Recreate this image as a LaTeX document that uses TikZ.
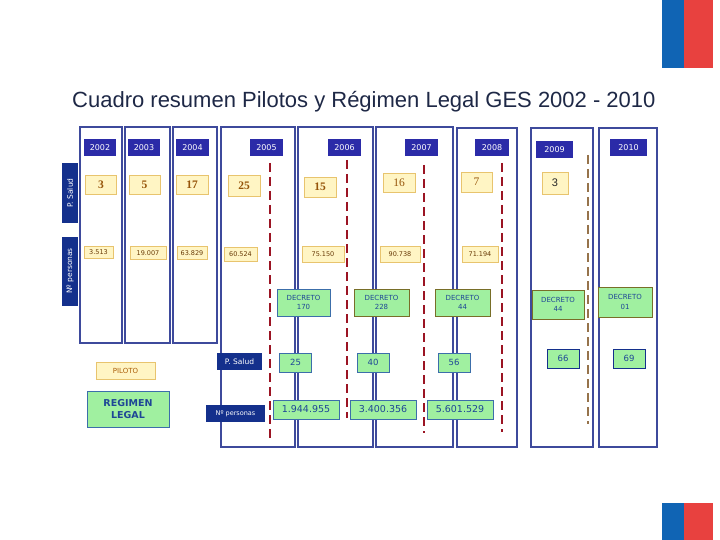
\documentclass[tikz,border=0pt]{standalone}
\usepackage{fontspec}
\setmainfont{Liberation Sans}
\newfontfamily\boxfont{DejaVu Sans}
\newfontfamily\numfont{Liberation Serif}
\usetikzlibrary{arrows.meta, positioning}
\definecolor{gesNavy}{RGB}{43,43,168}
\definecolor{gesDeep}{RGB}{20,48,140}
\definecolor{gesCol}{RGB}{62,74,156}
\definecolor{gesYel}{RGB}{255,245,196}
\definecolor{gesYelB}{RGB}{232,196,110}
\definecolor{gesBrown}{RGB}{150,85,10}
\definecolor{gesGreen}{RGB}{160,240,160}
\definecolor{gesGreenB}{RGB}{60,110,170}
\definecolor{gesOlive}{RGB}{120,110,40}
\definecolor{gesText}{RGB}{30,70,150}
\definecolor{gesRed}{RGB}{155,20,35}
\definecolor{gesTan}{RGB}{150,115,75}
\definecolor{flagBlue}{RGB}{16,100,180}
\definecolor{flagRed}{RGB}{232,65,63}
\definecolor{titleInk}{RGB}{30,40,70}

\begin{document}
\begin{tikzpicture}[x=1pt, y=-1pt,
    yr/.style={fill=gesNavy, text=white, inner sep=0pt, minimum width=#1,
               minimum height=17, font=\boxfont\fontsize{8}{9}\selectfont},
    pil/.style={draw=gesYelB, fill=gesYel, inner sep=0pt, line width=0.8pt,
                text=gesBrown},
    dec/.style={draw=#1, fill=gesGreen, inner sep=0pt, line width=0.9pt,
                text=gesText, align=center},
    tag/.style={fill=gesDeep, text=white, inner sep=0pt,
                font=\boxfont\fontsize{7.5}{8}\selectfont},
    col/.style={draw=gesCol, line width=1.3pt},
    cut/.style={draw=#1, line width=2.8pt, dash pattern=on 9pt off 5pt}]
\useasboundingbox (0,0) rectangle (720,540);

% flag corners
\fill[flagBlue] (662,0) rectangle (684,68);
\fill[flagRed] (684,0) rectangle (713,68);
\fill[flagBlue] (662,503) rectangle (684,540);
\fill[flagRed] (684,503) rectangle (713,540);

% title
\node[anchor=base west, inner sep=0pt, text=titleInk,
      font=\fontsize{22}{24}\selectfont] (title) at (72,108)
   {Cuadro resumen Pilotos y Régimen Legal GES 2002 - 2010};

% year columns
\foreach \xa/\ya/\xb/\yb in {80/127/122/343, 125/127/170/343, 173/127/217/343,
                             221/127/295/447, 298/127/373/447, 376/127/453/447,
                             457/128/517/447, 531/128/593/447, 599/128/657/447}
   \draw[col] (\xa,\ya) rectangle (\xb,\yb);

% cut lines
\foreach \x/\ya/\yb in {270/163/440, 347/160/418, 424/165/433, 502/163/432}
   \draw[cut=gesRed] (\x,\ya) -- (\x,\yb);
\draw[cut=gesTan] (588,155) -- (588,424);

% YEARS
\foreach \n/\x/\y/\w in {2002/100/148/32, 2003/144/148/32, 2004/192.5/148/33,
                         2005/266.5/148/33, 2006/344.5/148/33, 2007/421.5/148/33,
                         2008/492/148/34, 2009/554.5/150/37, 2010/628.5/147.5/37}
   \node[yr=\w] (y\n) at (\x,\y) {\n};

% row labels
\node[tag, rotate=90, minimum width=60, minimum height=16] (rsal) at (70,193) {P. Salud};
\node[tag, rotate=90, minimum width=69, minimum height=16] (rper) at (70,271) {Nº personas};

% PILOTS: P. Salud
\foreach \n/\x/\y/\w/\h/\t in {a/101/185/31/19/3, b/144.5/185/31/19/5,
                               c/192/185/32/19/17, d/244/185.5/32/21/25,
                               e/320/187/32/20/15}
   \node[pil, minimum width=\w, minimum height=\h,
         font=\numfont\bfseries\fontsize{11.5}{12}\selectfont] (s\n) at (\x,\y) {\t};
\node[pil, minimum width=32, minimum height=19,
      font=\numfont\fontsize{11.5}{12}\selectfont] (sf) at (399,182.5) {16};
\node[pil, minimum width=31, minimum height=20,
      font=\numfont\fontsize{11.5}{12}\selectfont] (sg) at (476.5,182) {7};
\node[pil, minimum width=26, minimum height=22, text=black!85,
      font=\fontsize{11}{12}\selectfont] (sh) at (555,183) {3};

% PILOTS: Nº personas
\foreach \n/\x/\y/\w/\h/\t in {a/98.5/252/29/12/3.513, b/148/253/36/13/19.007,
                               c/192/253/30/13/63.829, d/240.5/254/33/14/60.524,
                               e/323/254/42/16/75.150, f/400/254/40/16/90.738,
                               g/480/254/36/16/71.194}
   \node[pil, minimum width=\w, minimum height=\h, text=gesBrown!70!black,
         font=\boxfont\fontsize{6.5}{7}\selectfont] (n\n) at (\x,\y) {\t};

% LEGAL: decretos
\foreach \n/\x/\y/\w/\h/\b/\t in {a/303.5/302.5/53/27/gesGreenB/170,
                                  b/381.5/302.5/55/27/gesOlive/228,
                                  c/462.5/302.5/55/27/gesOlive/44,
                                  d/558/304.5/52/29/gesOlive/44,
                                  e/625/302/54/30/gesOlive/01}
   \node[dec=\b, minimum width=\w, minimum height=\h,
         font=\boxfont\fontsize{7}{9.5}\selectfont] (d\n) at (\x,\y) {DECRETO\\\t};

% LEGAL: P. Salud
\foreach \n/\x/\y/\b/\t in {a/295.5/362.5/gesGreenB/25, b/373/362.5/gesGreenB/40,
                            c/454/362.5/gesGreenB/56, d/563/358.5/gesDeep/66,
                            e/629/358.5/gesDeep/69}
   \node[dec=\b, minimum width=32, minimum height=19,
         font=\boxfont\fontsize{8.5}{9}\selectfont] (g\n) at (\x,\y) {\t};

% LEGAL: Nº personas
\foreach \n/\x/\t in {a/306/1.944.955, b/383/3.400.356, c/460/5.601.529}
   \node[dec=gesGreenB, minimum width=66, minimum height=19,
         font=\boxfont\fontsize{9.5}{10}\selectfont] (m\n) at (\x,409.5) {\t};

\node[tag, minimum width=45, minimum height=17] (lsal) at (239.5,361.5) {P. Salud};
\node[tag, minimum width=59, minimum height=17] (lper) at (235.5,413.5)
   {\fontsize{6.5}{7}\selectfont Nº personas};

% legend
\node[pil, minimum width=59, minimum height=17, text=gesBrown!80!orange,
      font=\boxfont\fontsize{7}{8}\selectfont] (kpil) at (125.5,370.5) {PILOTO};
\node[dec=gesGreenB, minimum width=82, minimum height=36,
      font=\boxfont\bfseries\fontsize{9.5}{12.5}\selectfont] (kleg) at (128,409)
   {REGIMEN\\LEGAL};

\end{tikzpicture}
\end{document}
